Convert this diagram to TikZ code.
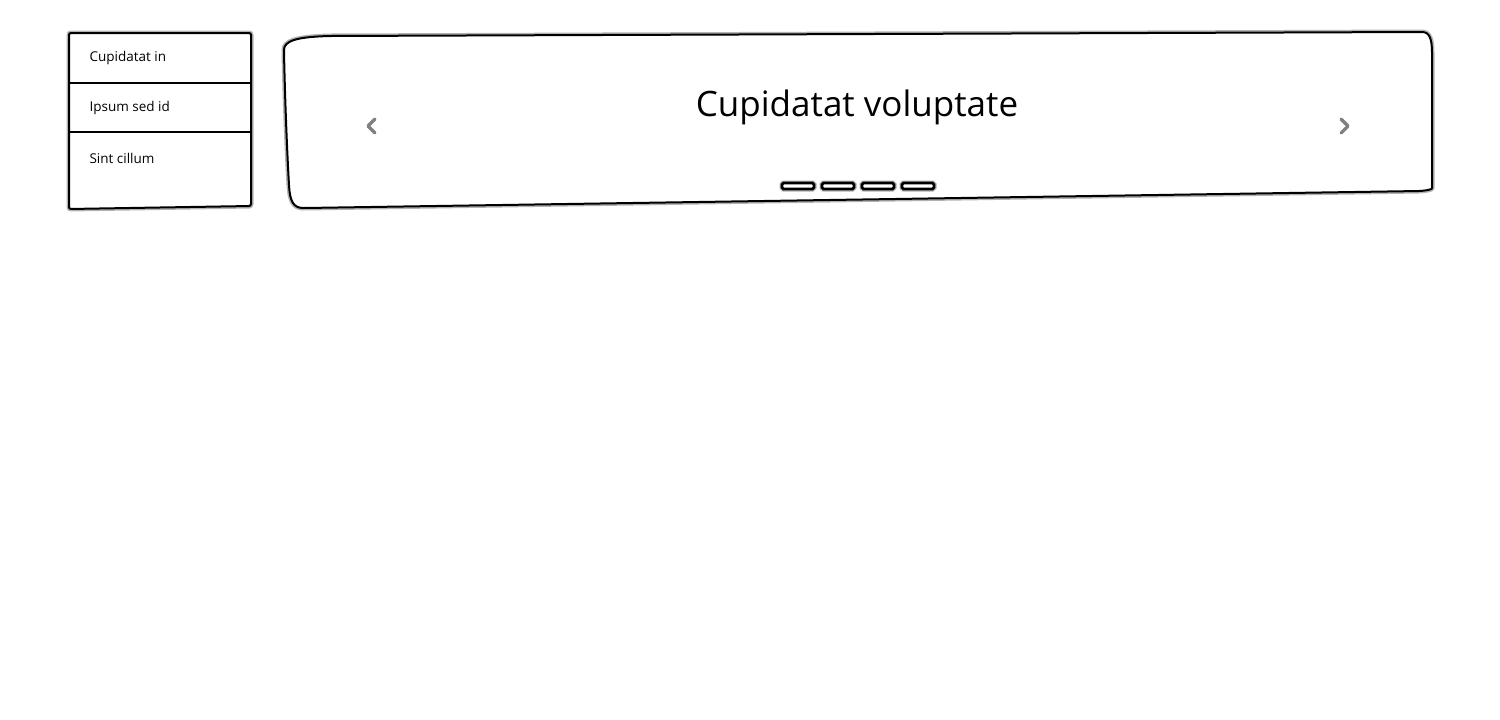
\documentclass[tikz,border=0pt]{standalone}
\usepackage{fontspec}
\setmainfont{Open Sans}
\begin{document}
\begin{tikzpicture}[x=1pt, y=-1pt,
    sketch/.style={draw=black, line width=2pt, fill=white, rounded corners=2pt,
      preaction={draw=black!30, line width=5pt}},
    item/.style={anchor=west, font=\fontsize{13.5}{16}\selectfont},
    chevron/.style={draw=gray, line width=3.2pt, line cap=round, line join=round},
    pager/.style={draw=black, fill=white, line width=2.6pt, rounded corners=1.5pt,
      minimum width=32pt, minimum height=6pt, inner sep=0pt,
      preaction={draw=black!30, line width=5pt}}]
  \useasboundingbox (0,0) rectangle (1500,720);

  % Side menu
  \draw[sketch] (69,33) -- (251,33) -- (251,206) -- (69,209) -- cycle;
  \draw[line width=2pt] (69,83) -- (251,83);
  \draw[line width=2pt] (69,132) -- (251,132);
  \node[item] (menuA) at (86,58) {Cupidatat in};
  \node[item] (menuB) at (86,108) {Ipsum sed id};
  \node[item] (menuC) at (86,158) {Sint cillum};

  % Carousel
  \draw[sketch] (284,52) .. controls (284,41) and (296,37) .. (330,36) -- (1420,32)
    .. controls (1430,32) and (1432,40) .. (1432,55) -- (1432,186)
    .. controls (1432,189) and (1430,190) .. (1420,191) -- (305,208)
    .. controls (293,208) and (290,200) .. (289,185)
    .. controls (287,150) and (285,100) .. (284,52) -- cycle;
  \node[font=\fontsize{35}{42}\selectfont] (title) at (857,107) {Cupidatat voluptate};

  % Arrows
  \draw[chevron] (375,119) -- (368,126) -- (375,133);
  \draw[chevron] (1341,119) -- (1348,126) -- (1341,133);

  % Indicators
  \foreach \i in {0,...,3}
    \node[pager] (pager\i) at (798+40*\i,186) {};
\end{tikzpicture}
\end{document}
